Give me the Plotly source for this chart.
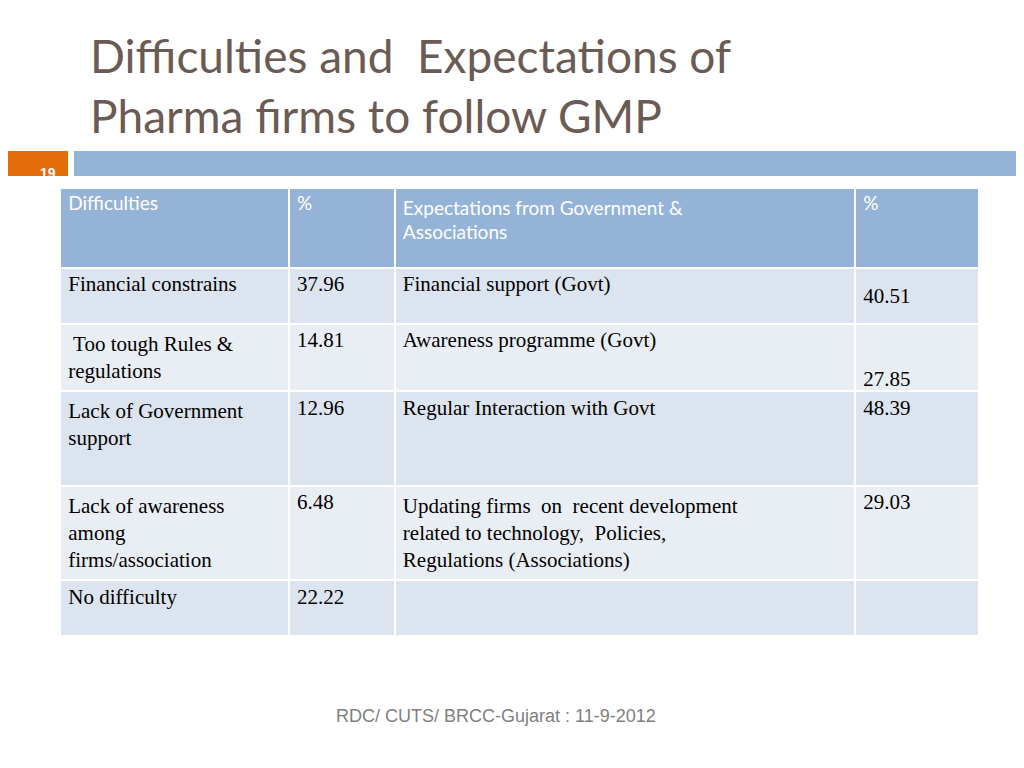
import plotly.graph_objects as go

cabecalho = ['Difficulties', '%', 'Expectations from Government &<br>Associations', '%']
dificuldades = ['Financial constrains', ' Too tough Rules &<br>regulations', 'Lack of Government<br>support<br> ',
                'Lack of awareness<br>among<br>firms/association', 'No difficulty']
pct_dif = ['37.96', '14.81', '12.96', '6.48', '22.22']
expectativas = ['Financial support (Govt)', 'Awareness programme (Govt)', 'Regular Interaction with Govt',
                'Updating firms  on  recent development<br>related to technology,  Policies,<br>Regulations (Associations)', '']
pct_exp = ['<br>40.51', '<br><br>27.85', '48.39', '29.03', '']

cores_linhas = ['#DCE4EF', '#E9EEF5', '#DCE4EF', '#E9EEF5', '#DCE4EF']

fig = go.Figure(go.Table(
    domain=dict(x=[0.051, 0.949], y=[0.13, 0.766]),
    columnwidth=[229, 106, 461, 124],
    header=dict(values=cabecalho, fill_color='#95B3D7', line_color='white', line_width=2,
                align='left', height=80,
                font=dict(family='Lato', size=19, color='white')),
    cells=dict(values=[dificuldades, pct_dif, expectativas, pct_exp],
               fill_color=[cores_linhas]*4, line_color='white', line_width=2,
               align='left', height=56,
               font=dict(family=['Liberation Serif', 'Liberation Serif', 'Liberation Serif', 'Liberation Serif'],
                         size=21, color='black')),
))

fig.update_layout(
    width=1024, height=768, margin=dict(l=0, r=0, t=0, b=0),
    paper_bgcolor='white', plot_bgcolor='white',
    shapes=[
        dict(type='rect', xref='paper', yref='paper', x0=0, x1=60/1024, y0=1-168/768, y1=1-143/768,
             fillcolor='#E46C0A', line_width=0),
        dict(type='rect', xref='paper', yref='paper', x0=66/1024, x1=1, y0=1-168/768, y1=1-143/768,
             fillcolor='#95B3D7', line_width=0),
    ],
    annotations=[
        dict(text='Difficulties and  Expectations of<br>Pharma firms to follow GMP', x=80/1024, y=1-18/768,
             xref='paper', yref='paper', xanchor='left', yanchor='top', align='left', showarrow=False,
             font=dict(family='Lato', size=46, color='#6B5B55')),
        dict(text='<b>19</b>', x=30/1024, y=1-155/768, xref='paper', yref='paper', showarrow=False,
             font=dict(family='Liberation Sans', size=14, color='white')),
        dict(text='RDC/ CUTS/ BRCC-Gujarat : 11-9-2012', x=488/1024, y=1-720/768, xref='paper', yref='paper',
             showarrow=False, font=dict(family='Liberation Sans', size=18, color='#7F7F7F')),
    ],
)

fig.write_html("out.html")
